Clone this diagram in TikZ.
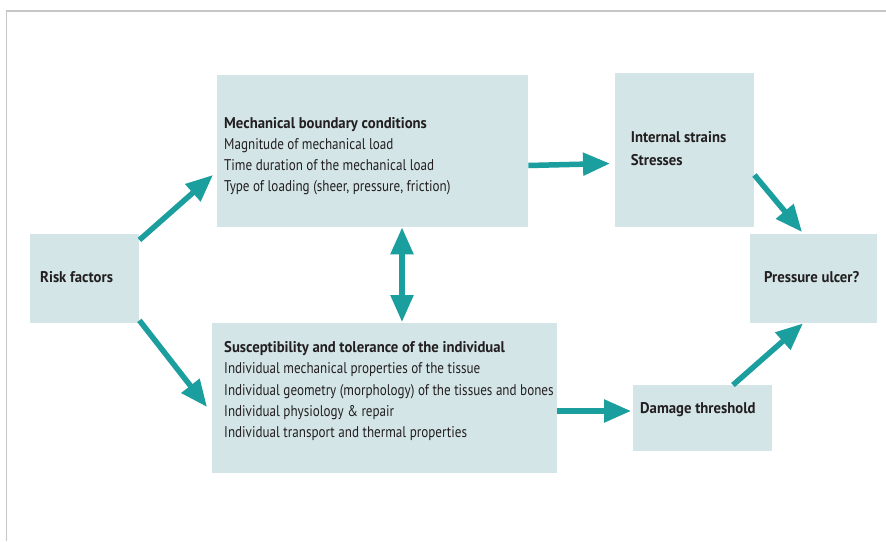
\documentclass[tikz,border=0pt]{standalone}
\usepackage{fontspec}
\setmainfont[FakeStretch=0.845, BoldFeatures={FakeStretch=0.95}]{PT Sans}
\usetikzlibrary{arrows.meta,calc}
\definecolor{boxc}{HTML}{D3E5E7}
\definecolor{tealc}{HTML}{1A9E9E}
\definecolor{txtc}{HTML}{231F20}
\definecolor{framec}{HTML}{C6C6C6}
\tikzset{
  box/.style={fill=boxc, draw=none, inner sep=0pt, anchor=north west},
  txt/.style={inner sep=0pt, anchor=base west, text=txtc, font=\fontsize{15.5}{21.2}\selectfont},
  arr/.style={draw=tealc, line width=5.5pt, -{Triangle[length=27pt,width=22pt]}},
  darr/.style={draw=tealc, line width=5.5pt, {Triangle[length=27pt,width=22pt]}-{Triangle[length=27pt,width=22pt]}}
}
\begin{document}
\begin{tikzpicture}[x=1pt,y=-1pt]
\useasboundingbox (0,0) rectangle (886,541);
\fill[white] (0,0) rectangle (886,541);
\draw[framec, line width=1.6pt] (6.5,541) -- (6.5,10.8) -- (886,10.8);

% boxes
\node[box, minimum width=109pt, minimum height=89pt] (risk) at (30,234) {};
\node[box, minimum width=311pt, minimum height=152pt] (mech) at (217,75) {};
\node[box, minimum width=139pt, minimum height=154pt] (intl) at (615,73) {};
\node[box, minimum width=127pt, minimum height=89pt] (ulcer) at (750,234) {};
\node[box, minimum width=345pt, minimum height=150pt] (susc) at (212,323) {};
\node[box, minimum width=139pt, minimum height=66pt] (dmg) at (633,385) {};

% texts
\node[txt] (risktxt) at (40,282.7) {\textbf{Risk factors}};
\node[txt] (mechtxt) at (224,128.3) {\begin{tabular}[t]{@{}l@{}}\textbf{Mechanical boundary conditions}\\
Magnitude of mechanical load\\
Time duration of the mechanical load\\
Type of loading (sheer, pressure, friction)\end{tabular}};
\node[txt] (intltxt) at (630.7,142.7) {\begin{tabular}[t]{@{}l@{}}\textbf{Internal strains}\\[1.1pt]
\textbf{Stresses}\end{tabular}};
\node[txt] (ulcertxt) at (764,282.7) {\textbf{Pressure ulcer?}};
\node[txt] (susctxt) at (224,352.7) {\begin{tabular}[t]{@{}l@{}}\textbf{Susceptibility and tolerance of the individual}\\
Individual mechanical properties of the tissue\\
Individual geometry (morphology) of the tissues and bones\\
Individual physiology \& repair\\
Individual transport and thermal properties\end{tabular}};
\node[txt] (dmgtxt) at (640,413.3) {\textbf{Damage threshold}};

% connectors
\draw[arr] ($(risk.north east)+(0,6)$) -- ($(mech.north west)+(-4,100)$);
\draw[arr] ($(risk.south east)+(0,-3)$) -- ($(susc.north west)+(-5,84)$);
\draw[darr] ($(mech.south west)+(185,0)$) -- ($(susc.north west)+(190,-1)$);
\draw[arr] ($(mech.north east)+(0,90.5)$) -- ($(intl.north west)+(-5,90.5)$);
\draw[arr] ($(intl.north east)+(0,102)$) -- ($(ulcer.north west)+(52,-2)$);
\draw[arr] ($(susc.north east)+(0,88)$) -- ($(dmg.north west)+(-2,26)$);
\draw[arr] ($(dmg.north west)+(100,0)$) -- ($(ulcer.south west)+(53,0)$);
\end{tikzpicture}
\end{document}
